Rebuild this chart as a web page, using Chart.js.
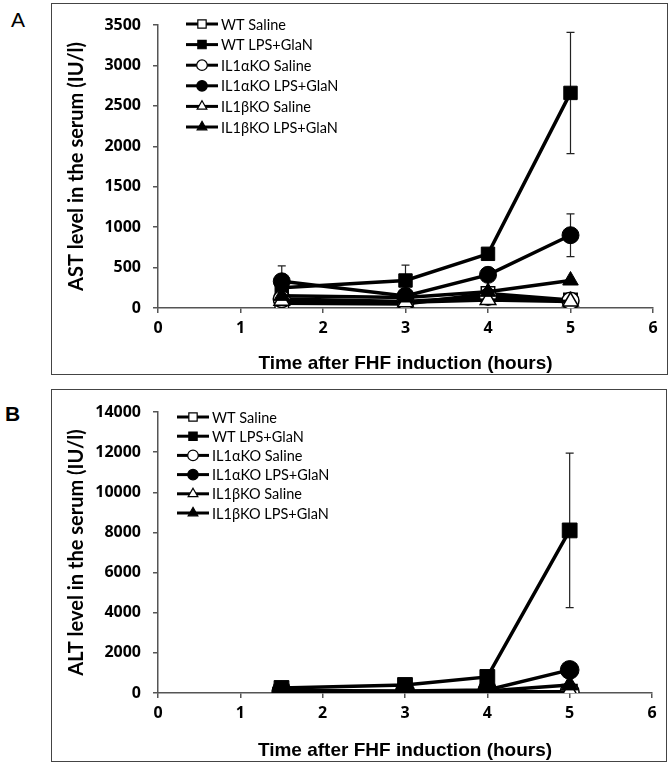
<!DOCTYPE html>
<html lang="en">
<head>
    <meta charset="UTF-8">
    <title>AST / ALT serum levels</title>
    <script src="https://cdn.jsdelivr.net/npm/chart.js"></script>
    <style>
        body { margin: 0; background: #fff; width: 671px; height: 765px; position: relative; overflow: hidden; }
        .panel-label { position: absolute; font-family: "Liberation Sans", Arial, sans-serif; color: #000; }
        #labelA { left: 11px; top: 8px; font-size: 21px; }
        #labelB { left: 5px; top: 402px; font-size: 21px; font-weight: bold; }
        canvas { position: absolute; }
        .frame { position: absolute; border: 1.5px solid #444; box-sizing: border-box; pointer-events: none; }
    </style>
</head>
<body>
<div class="panel-label" id="labelA">A</div>
<div class="panel-label" id="labelB">B</div>

<canvas id="astChart" width="617" height="372" style="left:51px; top:3px;"></canvas>
<div class="frame" style="left:51px; top:3px; width:617px; height:372px;"></div>

<canvas id="altChart" width="616" height="373" style="left:51px; top:389px;"></canvas>
<div class="frame" style="left:51px; top:389px; width:616px; height:373px;"></div>

<script>
    // time points (hours)
    const hours = [1.5, 3, 4, 5];
    const seriesNames = ['WT Saline', 'WT LPS+GlaN', 'IL1\u03b1KO Saline', 'IL1\u03b1KO LPS+GlaN', 'IL1\u03b2KO Saline', 'IL1\u03b2KO LPS+GlaN'];
    const xTicks = [0, 1, 2, 3, 4, 5, 6];

    // panel A: AST (IU/l)
    const astWtSaline = [60, 50, 180, 100];
    const astWtLps = [250, 340, 670, 2660];
    const astKoASaline = [110, 80, 140, 90];
    const astKoALps = [330, 150, 410, 900];
    const astKoBSaline = [90, 70, 100, 80];
    const astKoBLps = [150, 130, 200, 340];
    const astWtLpsErr = [0, 190, 0, 750];
    const astKoALpsErr = [190, 0, 0, 265];
    const astTicks = [0, 500, 1000, 1500, 2000, 2500, 3000, 3500];

    // panel B: ALT (IU/l)
    const altWtSaline = [60, 50, 60, 60];
    const altWtLps = [250, 400, 800, 8100];
    const altKoASaline = [50, 50, 60, 60];
    const altKoALps = [120, 100, 150, 1150];
    const altKoBSaline = [40, 40, 50, 50];
    const altKoBLps = [100, 80, 100, 400];
    const altWtLpsErr = [0, 0, 0, 3850];
    const altTicks = [0, 2000, 4000, 6000, 8000, 10000, 12000, 14000];

    const markers = [
        { style: 'rect', filled: false, r: 9.5 },
        { style: 'rect', filled: true, r: 9.5 },
        { style: 'circle', filled: false, r: 8.5 },
        { style: 'circle', filled: true, r: 8.5 },
        { style: 'triangle', filled: false, r: 9 },
        { style: 'triangle', filled: true, r: 9 }
    ];

    function makeDataset(i, values, err, scale) {
        const m = markers[i];
        const r = m.r * (scale || 1);
        return {
            label: seriesNames[i],
            data: hours.map((h, k) => ({ x: h, y: values[k] })),
            err: err || null,
            order: seriesNames.length - i, // later series on top, as in Excel
            borderColor: '#000',
            borderWidth: 3.5,
            pointStyle: m.style,
            pointRadius: r,
            pointHoverRadius: r,
            pointBackgroundColor: m.filled ? '#000' : '#fff',
            pointBorderColor: '#000',
            pointBorderWidth: m.filled ? 1 : 1.5,
            tension: 0,
            fill: false
        };
    }

    // error bars drawn under the markers
    const errorBars = {
        id: 'errorBars',
        beforeDatasetsDraw(chart) {
            const { ctx, scales: { x, y } } = chart;
            ctx.save();
            ctx.strokeStyle = '#222';
            ctx.lineWidth = 1.2;
            chart.data.datasets.forEach(ds => {
                if (!ds.err) return;
                ds.data.forEach((p, i) => {
                    const e = ds.err[i];
                    if (!e) return;
                    const px = x.getPixelForValue(p.x);
                    const top = y.getPixelForValue(p.y + e);
                    const bot = y.getPixelForValue(Math.max(0, p.y - e));
                    ctx.beginPath();
                    ctx.moveTo(px, top); ctx.lineTo(px, bot);
                    ctx.moveTo(px - 4, top); ctx.lineTo(px + 4, top);
                    ctx.moveTo(px - 4, bot); ctx.lineTo(px + 4, bot);
                    ctx.stroke();
                });
            });
            ctx.restore();
        }
    };

    // legend inside the plot, like the Excel original
    const insideLegend = {
        id: 'insideLegend',
        afterDraw(chart, args, opts) {
            const { ctx, chartArea } = chart;
            ctx.save();
            seriesNames.forEach((name, i) => {
                const m = markers[i];
                const x0 = chartArea.left + opts.dx;
                const y0 = chartArea.top + opts.dy + i * opts.rowH;
                ctx.strokeStyle = '#000';
                ctx.lineWidth = 3;
                ctx.beginPath();
                ctx.moveTo(x0, y0);
                ctx.lineTo(x0 + 32, y0);
                ctx.stroke();
                ctx.fillStyle = m.filled ? '#000' : '#fff';
                ctx.lineWidth = 1.2;
                Chart.helpers.drawPoint(ctx, { pointStyle: m.style, radius: m.r * 0.62, rotation: 0, borderWidth: 1.2 }, x0 + 16, y0);
                ctx.fillStyle = '#000';
                ctx.font = '14.5px Lato';
                ctx.textBaseline = 'middle';
                ctx.fillText(name, x0 + 35, y0 + 1);
            });
            ctx.restore();
        }
    };

    function makeChart(id, datasets, ticks, yTitle, legendPos, xHeight) {
        const tickFont = { family: 'Open Sans', weight: 'bold', size: 16 };
        return new Chart(document.getElementById(id), {
            type: 'line',
            data: { datasets: datasets },
            plugins: [errorBars, insideLegend],
            options: {
                responsive: false,
                animation: false,
                layout: { padding: { top: legendPos.top, right: 15, left: 0, bottom: 0 } },
                plugins: {
                    legend: { display: false },
                    tooltip: { enabled: false },
                    insideLegend: legendPos
                },
                scales: {
                    x: {
                        type: 'linear',
                        min: xTicks[0],
                        max: xTicks[xTicks.length - 1],
                        afterBuildTicks: s => { s.ticks = xTicks.map(v => ({ value: v })); },
                        afterFit: s => { s.height = xHeight; },
                        ticks: { color: '#000', font: tickFont, padding: 6, callback: v => String(v) },
                        grid: { drawOnChartArea: false, drawTicks: true, tickLength: 5, color: '#555', lineWidth: 1.5 },
                        border: { color: '#555', width: 1.5 },
                        title: {
                            display: true,
                            text: 'Time after FHF induction (hours)',
                            color: '#000',
                            font: { family: 'Liberation Sans', weight: 'bold', size: 19 },
                            padding: { top: 0, bottom: 0 }
                        }
                    },
                    y: {
                        min: ticks[0],
                        max: ticks[ticks.length - 1],
                        afterBuildTicks: s => { s.ticks = ticks.map(v => ({ value: v })); },
                        afterFit: s => { s.width = 107; },
                        ticks: { color: '#000', font: tickFont, padding: 12, callback: v => String(v) },
                        grid: { drawOnChartArea: false, drawTicks: true, tickLength: 5, color: '#555', lineWidth: 1.5 },
                        border: { color: '#555', width: 1.5 },
                        title: {
                            display: true,
                            text: yTitle,
                            color: '#000',
                            font: { family: 'Lato', weight: 'bold', size: 20 },
                            padding: { top: 14, bottom: 0 }
                        }
                    }
                }
            }
        });
    }

    makeChart('astChart', [
        makeDataset(0, astWtSaline),
        makeDataset(1, astWtLps, astWtLpsErr),
        makeDataset(2, astKoASaline),
        makeDataset(3, astKoALps, astKoALpsErr),
        makeDataset(4, astKoBSaline),
        makeDataset(5, astKoBLps)
    ], astTicks, 'AST level in the serum (IU/l)', { top: 22, dx: 28, dy: -1, rowH: 20.6 }, 67);

    makeChart('altChart', [
        makeDataset(0, altWtSaline, null, 1.1),
        makeDataset(1, altWtLps, altWtLpsErr, 1.1),
        makeDataset(2, altKoASaline, null, 1.1),
        makeDataset(3, altKoALps, null, 1.1),
        makeDataset(4, altKoBSaline, null, 1.1),
        makeDataset(5, altKoBLps, null, 1.1)
    ], altTicks, 'ALT level in the serum (IU/l)', { top: 23, dx: 19, dy: 5, rowH: 19.2 }, 69);
</script>
</body>
</html>
